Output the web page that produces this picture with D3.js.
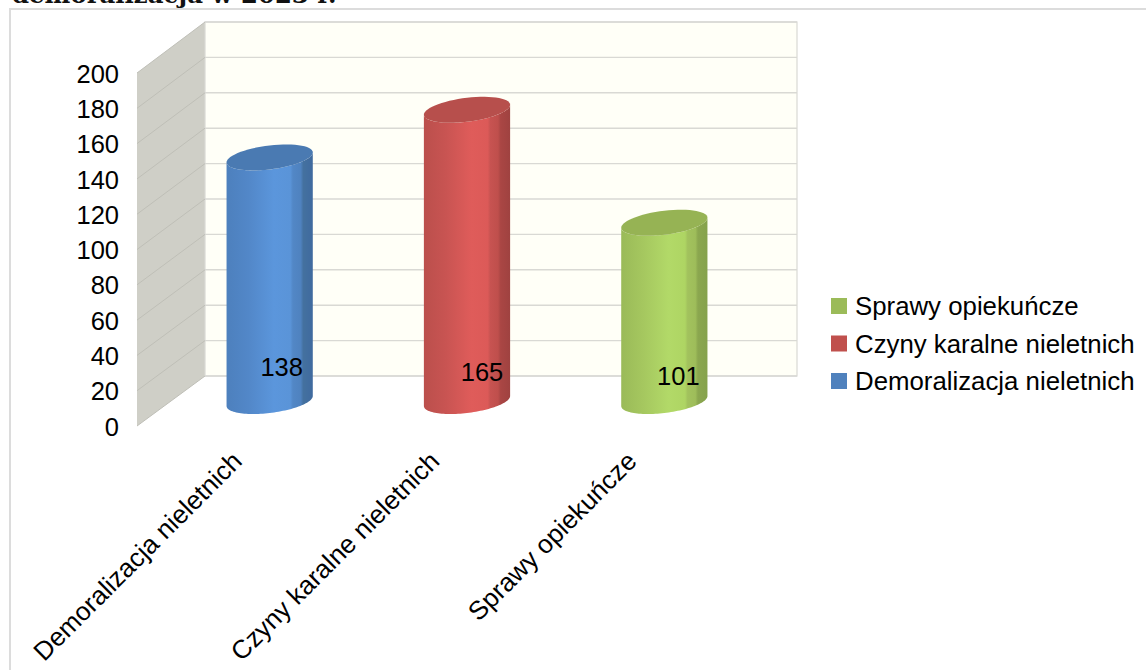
<!DOCTYPE html>
<html><head><meta charset="utf-8">
<script src="https://cdn.jsdelivr.net/npm/d3@7"></script>
<style>
html,body{margin:0;padding:0;background:#fff;overflow:hidden}
svg{display:block}
text{font-family:"Liberation Sans",Arial,sans-serif;fill:#000}
</style></head><body>
<svg id="c" width="1146" height="670"></svg>
<script>
const categories = ["Demoralizacja nieletnich","Czyny karalne nieletnich","Sprawy opiekuńcze"];
const values = [138,165,101];
const legendLabels = ["Sprawy opiekuńcze","Czyny karalne nieletnich","Demoralizacja nieletnich"];
const tickValues = [0,20,40,60,80,100,120,140,160,180,200];
const titleText = "demoralizacja w 2023 r.";
const themes = [
  {key:"blue", top:"#4a7ab2", swatch:"#4f81bd", stops:["#4d80bd","#5287c8","#5b96dc","#5a94d8","#5287c6","#4f82bf","#44719f","#3f6a9f"]},
  {key:"red", top:"#b74f4c", swatch:"#c0504d", stops:["#bb4f4c","#c85452","#df5c5a","#dc5a58","#c75351","#bf4f4c","#aa4644","#9f4240"]},
  {key:"green", top:"#96b354", swatch:"#9bbb59", stops:["#9aba58","#a5c75f","#b2d968","#aed563","#a2c25d","#9ebd5a","#8ba74f","#85a24c"]}
];
const stopAt = [0,0.25,0.55,0.74,0.77,0.86,0.89,1];

const svg = d3.select("#c");
const wall = {frontX:137, backX:205, rightX:797};
const yFront = d3.scaleLinear().domain([0,200]).range([426,73]);
const yBack  = d3.scaleLinear().domain([0,200]).range([376,22]);
const yMid   = d3.scaleLinear().domain([0,200]).range([401,48]);
const x = d3.scaleBand().domain(categories).range([171,763]).paddingInner(0.563).paddingOuter(0.2815);

// title (clipped by the top of the page, as in the reference) and frame
svg.append("text").attr("x",12).attr("y",2.5).text(titleText)
  .style("font-family",'"DejaVu Serif",serif').style("font-weight","bold").style("font-size","24.4px").style("fill","#111");
svg.append("rect").attr("x",10).attr("y",9).attr("width",1160).attr("height",700)
  .attr("fill","#fff").attr("stroke","#dcdcdc").attr("stroke-width",2);

// side wall
svg.append("path").attr("fill","#cfcfc7")
  .attr("d",`M${wall.frontX},${yFront(0)}L${wall.frontX},${yFront(200)}L${wall.backX},${yBack(200)}L${wall.backX},${yBack(0)}Z`);
// back wall
svg.append("rect").attr("x",wall.backX).attr("y",yBack(200)).attr("width",wall.rightX-wall.backX)
  .attr("height",yBack(0)-yBack(200)).attr("fill","#fffff7").attr("stroke","#d9d9d4").attr("stroke-width",1.2);
// grid
tickValues.forEach(v=>{
  svg.append("line").attr("x1",wall.backX).attr("x2",wall.rightX).attr("y1",yBack(v)).attr("y2",yBack(v))
    .attr("stroke","#d9d9d4").attr("stroke-width",1.4);
  svg.append("line").attr("x1",wall.frontX).attr("x2",wall.backX).attr("y1",yFront(v)).attr("y2",yBack(v))
    .attr("stroke","#bfbfb7").attr("stroke-width",1);
});

// y axis
const ax = svg.append("g").attr("transform","translate(119,0)")
  .call(d3.axisLeft(yFront).tickValues(tickValues).tickSize(0).tickPadding(0));
ax.select(".domain").remove();
ax.selectAll("text").style("font-size","25.5px").attr("dy","0.36em");

// x axis
const xCentre = c => x(c)+x.bandwidth()/2;
const xAx = svg.append("g").attr("transform","translate(-39,450)")
  .call(d3.axisBottom(x).tickSize(0).tickPadding(0));
xAx.select(".domain").remove();
xAx.selectAll("text").style("font-size","26px").attr("text-anchor","end")
  .attr("dy","0.7em").attr("transform","rotate(-45)");

// cylinders
const defs = svg.append("defs");
themes.forEach(t=>{
  const g = defs.append("linearGradient").attr("id","g-"+t.key).attr("x1",0).attr("x2",1).attr("y1",0).attr("y2",0);
  t.stops.forEach((s,i)=>g.append("stop").attr("offset",stopAt[i]).attr("stop-color",s));
});
const tiltY = 5, minorY = 12;
const line = d3.line();
const ell = (cx,cy,rx,a0,a1,n=60)=>d3.range(n+1).map(i=>{
  const t = a0+(a1-a0)*i/n;
  return [cx+rx*Math.cos(t), cy-tiltY*Math.cos(t)+minorY*Math.sin(t)];
});
categories.forEach((c,i)=>{
  const cx = xCentre(c), rx = x.bandwidth()/2, t = themes[i];
  const y0 = yMid(0), y1 = yMid(values[i]);
  const body = [...ell(cx,y1,rx,Math.PI,0), ...ell(cx,y0,rx,0,Math.PI)];
  svg.append("path").attr("d",line(body)+"Z").attr("fill",`url(#g-${t.key})`);
  svg.append("path").attr("d",line(ell(cx,y1,rx,0,2*Math.PI))+"Z").attr("fill",t.top);
});

// data labels
const labelShift = [12,15,14], labelY = [367,372,376];
categories.forEach((c,i)=>{
  svg.append("text").attr("x",xCentre(c)+labelShift[i]).attr("y",labelY[i]).attr("dy","0.36em")
    .attr("text-anchor","middle").style("font-size","25.5px").text(values[i]);
});

// legend
const legY = d3.scalePoint().domain(legendLabels).range([306,381]);
const themeOf = l => themes[categories.indexOf(l)];
legendLabels.forEach(l=>{
  svg.append("rect").attr("x",831).attr("y",legY(l)-8).attr("width",16).attr("height",16).attr("fill",themeOf(l).swatch);
  svg.append("text").attr("x",855).attr("y",legY(l)).attr("dy","0.36em").style("font-size","25.8px").text(l);
});
</script>
</body></html>
